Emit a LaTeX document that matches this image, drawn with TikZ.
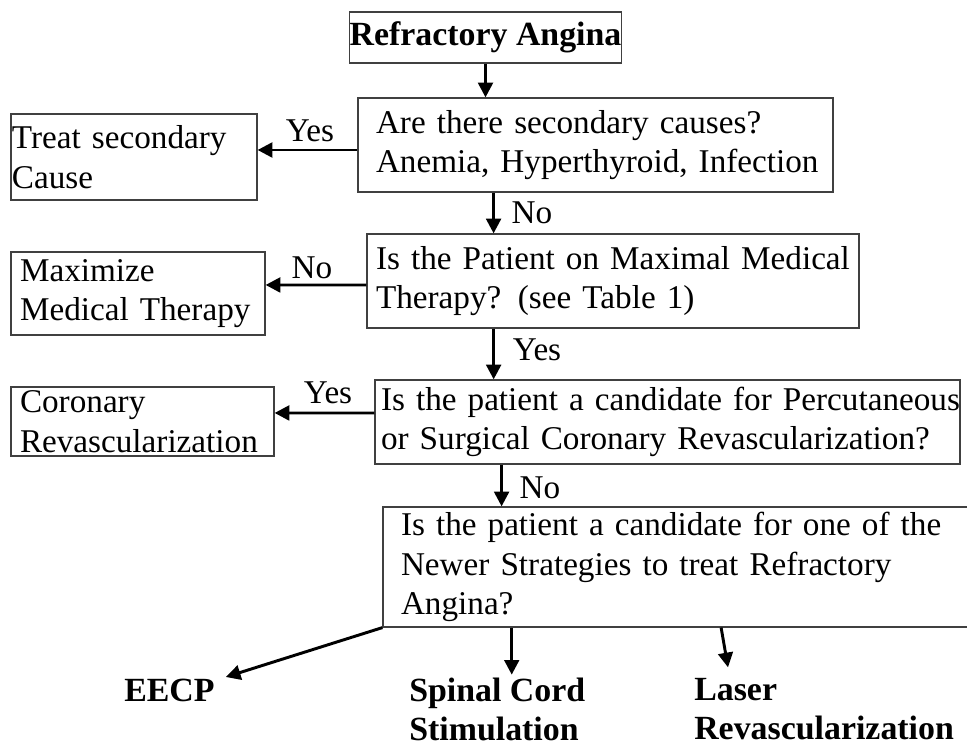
\documentclass[tikz,border=0pt]{standalone}
\usepackage{fontspec}
\setmainfont{Liberation Serif}
\usetikzlibrary{arrows.meta}
\usetikzlibrary{calc}
\usetikzlibrary{positioning}

\newcommand{\chartfont}{\fontsize{24.9}{29.8}\selectfont}
\newcommand{\outcomefont}{\fontsize{25.4}{29}\selectfont\bfseries}

\tikzset{
  qbox/.style={draw=black!75, line width=0.9pt, font=\chartfont, inner sep=0pt},
  lpad/.style={execute at begin node={\leftskip=#1\relax\rightskip=0pt plus 1fil minus 30pt\relax}},
  outcome/.style={align=left, font=\outcomefont, inner sep=0pt},
  answer/.style={font=\chartfont, inner sep=0pt},
  flow/.style={line width=2.2pt, -{Triangle[width=11pt,length=11pt]}},
}

\begin{document}
\begin{tikzpicture}[x=0.75pt, y=-0.75pt]
    \path[use as bounding box] (0, 0) rectangle (967, 748);

    \node[qbox, font=\outcomefont, align=center,
          minimum width=203.25pt, minimum height=38.25pt] (title) at (485.5, 37.5) {Refractory Angina};

    \node[qbox, lpad=13.5pt, text width=356.25pt, minimum height=70.5pt] (q1) at (595.5, 145)
      {Are there secondary causes?\\Anemia, Hyperthyroid, Infection};
    \node[qbox, lpad=0.75pt, text width=184.5pt, minimum height=64.5pt] (treat) at (134, 157)
      {Treat secondary\\Cause};

    \node[qbox, lpad=6.75pt, text width=369pt, minimum height=70.5pt] (q2) at (613, 281)
      {Is the Patient on Maximal Medical\\Therapy? (see Table 1)};
    \node[qbox, lpad=6.75pt, text width=190.5pt, minimum height=62.25pt] (maximize) at (138, 293.5)
      {Maximize\\Medical Therapy};

    \node[qbox, lpad=4.5pt, text width=438.75pt, minimum height=63pt] (q3) at (667.5, 422)
      {Is the patient a candidate for Percutaneous\\or Surgical Coronary Revascularization?};
    \node[qbox, lpad=6.75pt, text width=197.25pt, minimum height=51.75pt] (coronary) at (142.5, 421.5)
      {Coronary\\Revascularization};

    \node[qbox, lpad=13.5pt, text width=444pt, minimum height=90pt] (q4) at (679, 567)
      {Is the patient a candidate for one of the\\Newer Strategies to treat Refractory\\Angina?};

    \node[outcome, anchor=north west] (eecp) at (124, 679) {EECP};
    \node[outcome, anchor=north west] (spinal) at (409, 678) {Spinal Cord\\Stimulation};
    \node[outcome, anchor=north west] (laser) at (694, 678) {Laser\\Revascularization};

    \node[answer] (yes1) at (310, 131) {Yes};
    \node[answer] (no1) at (532, 213) {No};
    \node[answer] (no2) at (312, 268) {No};
    \node[answer] (yes2) at (537, 350) {Yes};
    \node[answer] (yes3) at (328, 393) {Yes};
    \node[answer] (no3) at (540, 488) {No};

    \draw[flow] (title.south) -- (title.south |- q1.north);

    \coordinate (d1) at ($(q1.south west)!.286!(q1.south east)$);
    \draw[flow] (d1) -- (d1 |- q2.north);
    \coordinate (d2) at ($(q2.south west)!.258!(q2.south east)$);
    \draw[flow] (d2) -- (d2 |- q3.north);
    \coordinate (d3) at ($(q3.south west)!.217!(q3.south east)$);
    \draw[flow] (d3) -- (d3 |- q4.north);

    \draw[flow] ([yshift=-3.75pt]q1.west) -- ([yshift=5.25pt]treat.east);
    \draw[flow] ([yshift=-3pt]q2.west) -- ([yshift=6.4pt]maximize.east);
    \draw[flow] ([yshift=6.75pt]q3.west) -- ([yshift=6.4pt]coronary.east);

    \coordinate (s1) at ($(q4.south west)!.218!(q4.south east)$);
    \coordinate (s2) at ($(q4.south west)!.571!(q4.south east)$);
    \draw[flow] (q4.south west) -- ([shift={(8.25pt,1.5pt)}]eecp.north east);
    \draw[flow, shorten >=2.5pt] (s1) -- (s1 |- spinal.north);
    \draw[flow] (s2) -- ([shift={(25.5pt,8pt)}]laser.north west);
\end{tikzpicture}
\end{document}
